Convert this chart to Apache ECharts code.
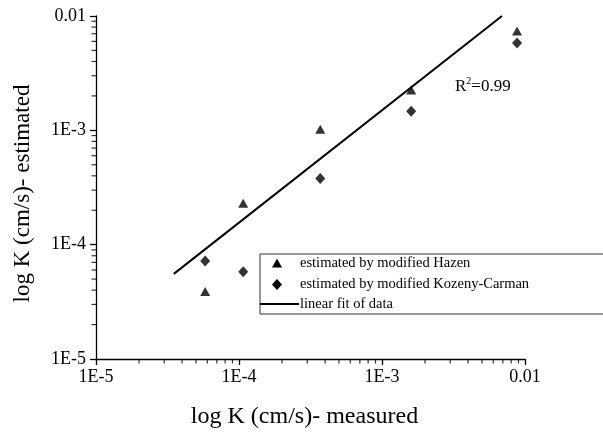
<!DOCTYPE html>
<html>
<head>
<meta charset="utf-8">
<script src="https://cdn.jsdelivr.net/npm/echarts@6/dist/echarts.min.js"></script>
<style>html,body{margin:0;padding:0;background:#fff}#c{width:603px;height:434px}</style>
</head>
<body>
<div id="c"></div>
<script>
// Data
var measured = [5.8e-5, 1.07e-4, 3.7e-4, 1.6e-3, 8.8e-3];
var hazen = [3.9e-5, 2.3e-4, 1.02e-3, 2.25e-3, 7.4e-3];
var kozeny = [7.2e-5, 5.8e-5, 3.8e-4, 1.47e-3, 5.8e-3];
var fitX = [3.5e-5, 6.9e-3];
var fitY = [5.55e-5, 1.0e-2];
var axisMin = 1e-5, axisMax = 1e-2;
var minorMultipliers = [2, 3, 4, 5, 6, 7, 8, 9];
var decades = [1e-5, 1e-4, 1e-3];
var seriesNames = ['estimated by modified Hazen', 'estimated by modified Kozeny-Carman', 'linear fit of data'];
var r2Label = '0.99';

function tickLabel(v) {
  var e = Math.round(Math.log10(v));
  if (e === -2) return '0.01';
  return '1E' + e;
}

var minorVals = [];
for (var di = 0; di < decades.length; di++) {
  for (var mi = 0; mi < minorMultipliers.length; mi++) {
    minorVals.push(decades[di] * minorMultipliers[mi]);
  }
}

var font = 'Liberation Serif';
var chart = echarts.init(document.getElementById('c'));

var option = {
  backgroundColor: '#fff',
  animation: false,
  grid: { left: 96, top: 16, right: 78, bottom: 72 },
  xAxis: [{
    type: 'log', min: axisMin, max: axisMax, logBase: 10,
    name: 'log K (cm/s)- measured', nameLocation: 'middle', nameGap: 46,
    nameTextStyle: { fontFamily: font, fontSize: 24, color: '#000', padding: [0, 12, 0, 0] },
    axisLine: { lineStyle: { color: '#000', width: 1.3 } },
    axisTick: { show: true, inside: false, length: 6, lineStyle: { color: '#000', width: 1.3 } },
    axisLabel: { fontFamily: font, fontSize: 18, color: '#000', margin: 9, formatter: tickLabel },
    splitLine: { show: false }
  }],
  yAxis: [{
    type: 'log', min: axisMin, max: axisMax, logBase: 10,
    name: 'log K (cm/s)- estimated', nameLocation: 'middle', nameGap: 62,
    nameTextStyle: { fontFamily: font, fontSize: 23, color: '#000', padding: [0, 12, 0, 0] },
    axisLine: { lineStyle: { color: '#000', width: 1.3 } },
    axisTick: { show: true, inside: false, length: 6, lineStyle: { color: '#000', width: 1.3 } },
    axisLabel: { fontFamily: font, fontSize: 18, color: '#000', margin: 10, formatter: tickLabel },
    splitLine: { show: false }
  }],
  series: [
    {
      name: seriesNames[2], type: 'line', symbol: 'none',
      data: fitX.map(function (x, i) { return [x, fitY[i]]; }),
      lineStyle: { color: '#000', width: 2 }
    },
    {
      name: seriesNames[0], type: 'scatter', symbol: 'triangle', symbolSize: [10, 9],
      data: measured.map(function (x, i) { return [x, hazen[i]]; }),
      itemStyle: { color: '#000' }
    },
    {
      name: seriesNames[1], type: 'scatter', symbol: 'diamond', symbolSize: [10, 11],
      data: measured.map(function (x, i) { return [x, kozeny[i]]; }),
      itemStyle: { color: '#000' }
    },
    {
      name: 'minorX', type: 'scatter', silent: true, clip: false, z: 10,
      symbol: 'rect', symbolSize: [1.2, 4.5], symbolOffset: [0, 2.25],
      data: minorVals.map(function (v) { return [v, axisMin]; }),
      itemStyle: { color: '#000' }
    },
    {
      name: 'minorY', type: 'scatter', silent: true, clip: false, z: 10,
      symbol: 'rect', symbolSize: [4.5, 1.2], symbolOffset: [-2.25, 0],
      data: minorVals.map(function (v) { return [axisMin, v]; }),
      itemStyle: { color: '#000' }
    }
  ],
  graphic: [
    { type: 'rect', shape: { x: 260, y: 254, width: 350, height: 60 }, style: { fill: 'none', stroke: '#333', lineWidth: 1 } },
    { type: 'polygon', shape: { points: [[277, 258.5], [282, 267.5], [272, 267.5]] }, style: { fill: '#000' } },
    { type: 'polygon', shape: { points: [[277, 279], [282, 284.5], [277, 290], [272, 284.5]] }, style: { fill: '#000' } },
    { type: 'line', shape: { x1: 260, y1: 304, x2: 299, y2: 304 }, style: { stroke: '#000', lineWidth: 2 } },
    { type: 'text', x: 300, y: 263, style: { text: seriesNames[0], fontFamily: font, fontSize: 14.5, fill: '#000', verticalAlign: 'middle' } },
    { type: 'text', x: 300, y: 284, style: { text: seriesNames[1], fontFamily: font, fontSize: 14.5, fill: '#000', verticalAlign: 'middle' } },
    { type: 'text', x: 300, y: 304, style: { text: seriesNames[2], fontFamily: font, fontSize: 14.5, fill: '#000', verticalAlign: 'middle' } },
    { type: 'text', x: 455, y: 76, style: {
      text: '{a|R}{b|2}{a|=' + r2Label + '}',
      rich: {
        a: { fontFamily: font, fontSize: 17, fill: '#000', verticalAlign: 'bottom', lineHeight: 19 },
        b: { fontFamily: font, fontSize: 10, fill: '#000', verticalAlign: 'top', lineHeight: 19, padding: [0, 0, 9, 0] }
      }
    } }
  ]
};
chart.setOption(option);
</script>
</body>
</html>
